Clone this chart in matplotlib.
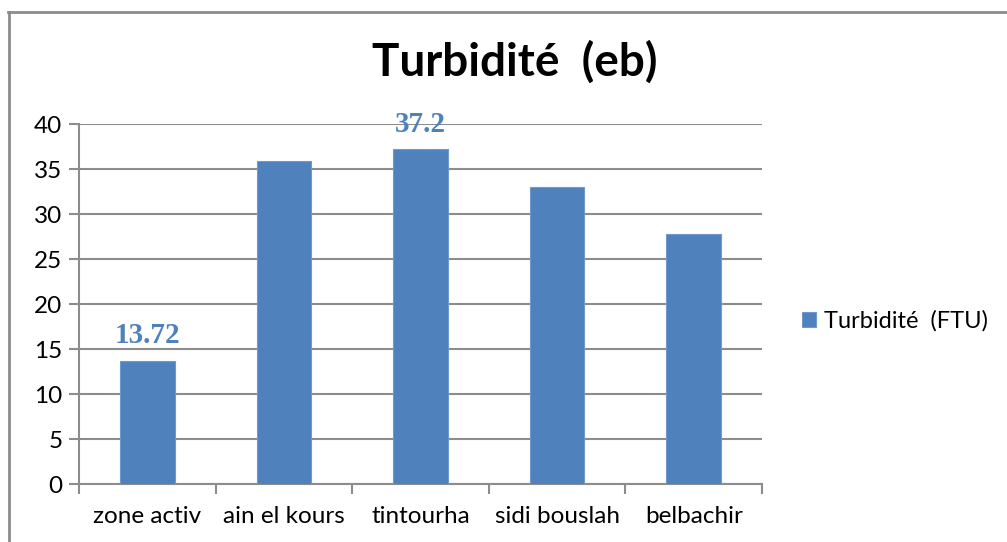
import matplotlib.pyplot as plt
import numpy as np
from matplotlib.lines import Line2D

plt.rcParams['font.family'] = ['Lato', 'DejaVu Sans']

sites = ['zone activ', 'ain el kours', 'tintourha', 'sidi bouslah', 'belbachir']
turbidity = [13.72, 35.9, 37.2, 33.0, 27.8]
labelled = [0, 2]  # only these bars carry a value label
y_ticks = [0, 5, 10, 15, 20, 25, 30, 35, 40]

bar_color = '#4F81BD'
grid_color = '#8C8C8C'

fig = plt.figure(figsize=(10.07, 5.42), dpi=100)
ax = fig.add_axes([0.0785, 0.107, 0.6782, 0.664])

x = np.arange(len(sites))
ax.bar(x, turbidity, width=0.4, color=bar_color, edgecolor='#6E9AD0',
       linewidth=0.8, zorder=3, label='Turbidité  (FTU)')

for i in labelled:
    ax.annotate('{:g}'.format(turbidity[i]), (x[i], turbidity[i]),
                xytext=(0, 8), textcoords='offset points', ha='center',
                va='bottom', fontsize=21, fontweight='bold',
                family='Liberation Serif', color=bar_color, zorder=4)

ax.set_xlim(-0.5, len(sites) - 0.5)
ax.set_ylim(0, 40)
ax.set_yticks(y_ticks)
ax.yaxis.grid(True, color=grid_color, linewidth=1.5, zorder=0)

ax.set_xticks(x)
ax.set_xticklabels(sites, fontsize=17.5)
ax.set_xticks(np.arange(-0.5, len(sites), 1), minor=True)
ax.tick_params(axis='x', which='major', length=0, pad=16)
ax.tick_params(axis='x', which='minor', length=7, width=1.5, color=grid_color,
               direction='out')
ax.tick_params(axis='y', length=7, width=1.5, color=grid_color, labelsize=17.5,
               pad=5)

for side in ['top', 'right']:
    ax.spines[side].set_visible(False)
for side in ['left', 'bottom']:
    ax.spines[side].set_color(grid_color)
    ax.spines[side].set_linewidth(1.5)

fig.text(0.511, 0.885, 'Turbidité  (eb)', ha='center', va='center',
         fontsize=33, fontweight='bold')

ax.legend(loc='center left', bbox_to_anchor=(0.775, 0.408),
          bbox_transform=fig.transFigure, frameon=False, fontsize=17,
          handlelength=0.6, handleheight=0.6, handletextpad=0.35)

# outer chart border (left and top edges visible)
fig.add_artist(Line2D([0.0085, 0.0085], [0, 0.978], color=grid_color,
                      linewidth=2, transform=fig.transFigure))
fig.add_artist(Line2D([0.0075, 1.0], [0.978, 0.978], color=grid_color,
                      linewidth=2, transform=fig.transFigure))

fig.savefig('out.png', dpi=100)
